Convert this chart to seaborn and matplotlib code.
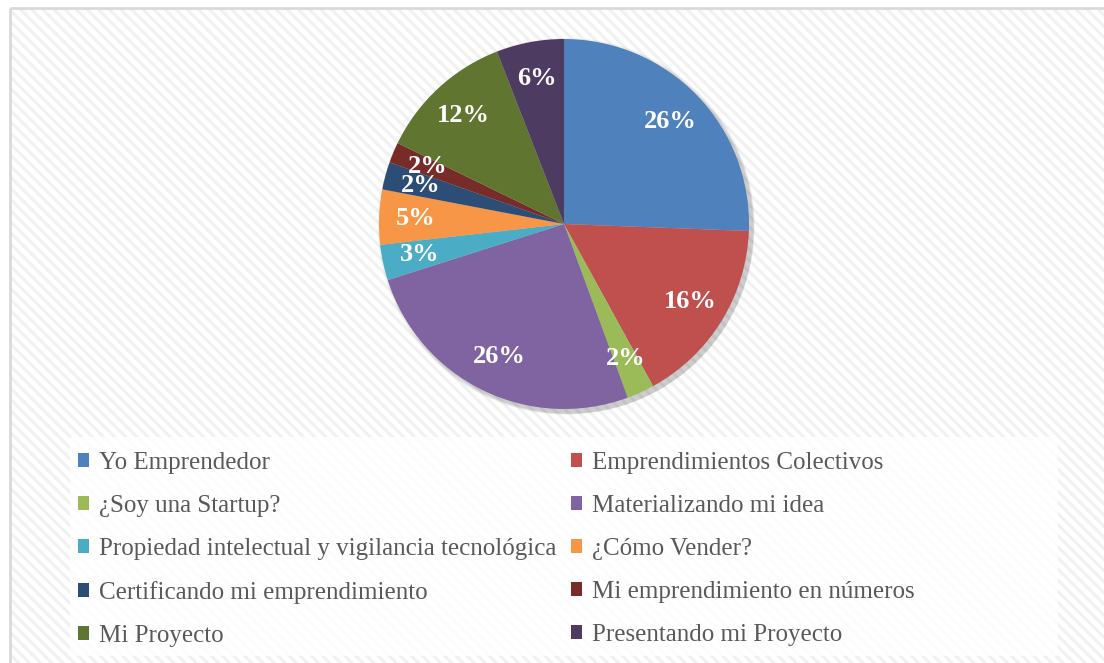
import matplotlib.pyplot as plt
import seaborn as sns
from matplotlib.patches import Rectangle, Circle

sns.set_theme(style="white")
plt.rcParams['font.family'] = ['Liberation Serif', 'DejaVu Serif']
plt.rcParams['hatch.linewidth'] = 2.2
plt.rcParams['hatch.color'] = '#f1f1f1'

# Data (percent share of each module)
modules = ['Yo Emprendedor', 'Emprendimientos Colectivos', '¿Soy una Startup?',
           'Materializando mi idea', 'Propiedad intelectual y vigilancia tecnológica',
           '¿Cómo Vender?', 'Certificando mi emprendimiento', 'Mi emprendimiento en números',
           'Mi Proyecto', 'Presentando mi Proyecto']
shares = [25.6, 16.4, 2.4, 25.7, 3.1, 4.8, 2.4, 1.8, 11.9, 5.9]
colors = ['#4F81BD', '#C0504D', '#9BBB59', '#8064A2', '#4BACC6',
          '#F79646', '#2C4D75', '#772C2A', '#5F7530', '#4D3B62']

W, H = 1104, 663
fig = plt.figure(figsize=(W / 100, H / 100), dpi=100)

# hatched background + frame + legend box
bg = fig.add_axes([0, 0, 1, 1])
bg.set_xlim(0, W)
bg.set_ylim(H, 0)
bg.axis('off')
bg.add_patch(Rectangle((10, 8), W, H, facecolor='white', hatch='\\\\\\',
                       edgecolor='#f1f1f1', linewidth=0))
bg.add_patch(Rectangle((10, 8), W, H, facecolor='none', edgecolor='#d9d9d9', linewidth=2))
bg.add_patch(Rectangle((70, 437), 988, 219, facecolor='white', alpha=0.8, linewidth=0))

# pie axes: centre (564, 224), radius 185 px
cx, cy, r, half = 564, 224, 185, 200
ax = fig.add_axes([(cx - half) / W, 1 - (cy + half) / H, 2 * half / W, 2 * half / H])

# soft shadow
for i in range(4):
    ax.add_patch(Circle((0.012 + 0.004 * i, -0.012 - 0.004 * i), 1.0 + 0.006 * (3 - i),
                        color='black', alpha=0.05, lw=0, zorder=0))

wedges, texts, autotexts = ax.pie(
    shares, colors=colors, startangle=90, counterclock=False, radius=1,
    autopct='%1.0f%%', pctdistance=0.8,
    wedgeprops=dict(linewidth=0),
    textprops=dict(color='white', fontsize=19, fontweight='bold'))
for w in wedges:
    w.set_zorder(2)
for t in autotexts:
    t.set_zorder(3)
lim = half / r
ax.set_xlim(-lim, lim)
ax.set_ylim(-lim, lim)
ax.axis('off')

# legend, filled row by row in two columns
order = [0, 2, 4, 6, 8, 1, 3, 5, 7, 9]
leg = fig.legend([wedges[i] for i in order], [modules[i] for i in order],
                 ncol=2, loc='upper left', bbox_to_anchor=(78 / W, 1 - 452 / H),
                 fontsize=18, frameon=False, labelcolor='#595959',
                 handlelength=0.45, handleheight=0.45, handletextpad=0.38,
                 columnspacing=0.6, labelspacing=0.84, borderpad=0,
                 borderaxespad=0)

fig.savefig('out.png', dpi=100)
